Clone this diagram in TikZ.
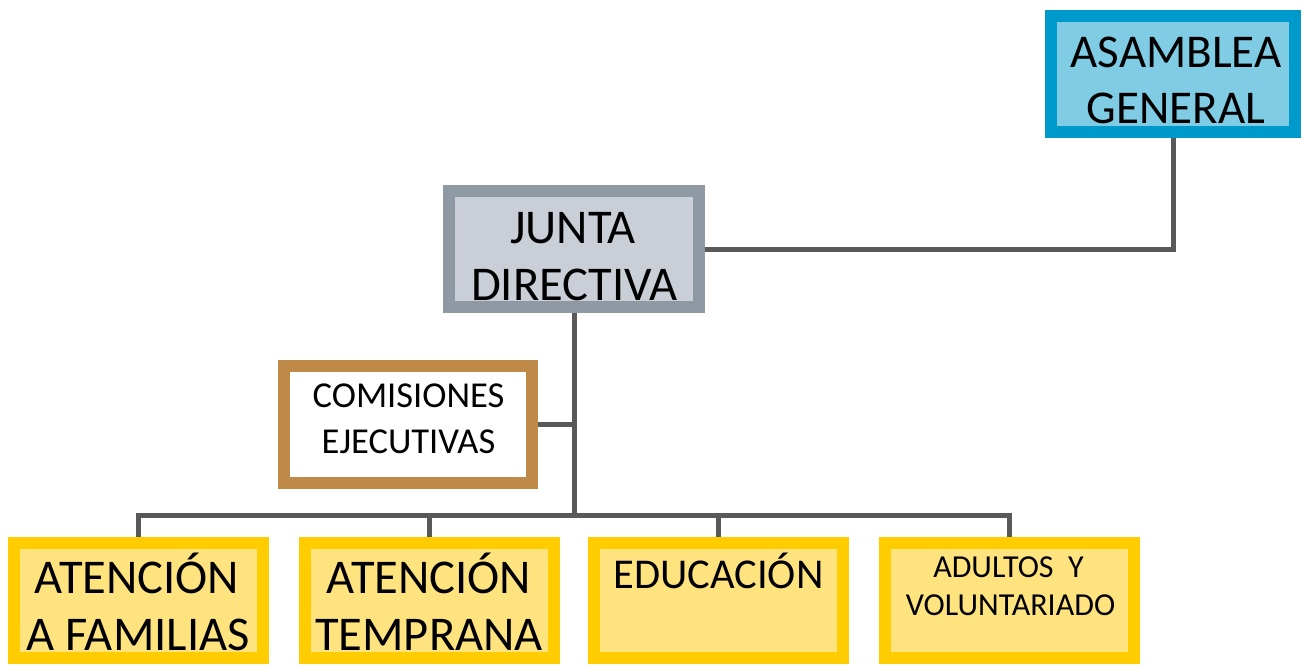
\documentclass[tikz,border=0pt]{standalone}
\usepackage{fontspec}
\setmainfont{Carlito}
\usetikzlibrary{backgrounds}
\definecolor{lineg}{HTML}{595959}
\definecolor{asamB}{HTML}{0099CC}
\definecolor{asamF}{HTML}{7FCCE4}
\definecolor{juntaB}{HTML}{8E99A4}
\definecolor{juntaF}{HTML}{C9CED7}
\definecolor{comB}{HTML}{BF8A48}
\definecolor{yelB}{HTML}{FFCC00}
\definecolor{yelF}{HTML}{FFE37F}
\tikzset{
  box/.style={rectangle, inner sep=0pt, line width=12pt, minimum width=249pt, minimum height=116pt},
  asambox/.style={box, draw=asamB, fill=asamF, minimum width=244pt},
  juntabox/.style={box, draw=juntaB, fill=juntaF, minimum width=250pt},
  combox/.style={box, draw=comB, fill=white, minimum width=248pt, minimum height=117pt},
  areabox/.style={box, draw=yelB, fill=yelF, minimum width=249pt, minimum height=115pt},
  txt/.style={inner sep=0pt, anchor=base},
  conn/.style={draw=lineg, line width=5pt}
}
\begin{document}
\begin{tikzpicture}[x=1pt,y=-1pt]
\useasboundingbox (0,0) rectangle (1303,665);
% boxes
\node[asambox] (asam) at (1173,74) {};
\node[juntabox] (junta) at (574,249) {};
\node[combox] (comis) at (408,424.5) {};
\node[areabox] (b1) at (138.5,600) {};
\node[areabox] (b2) at (429,600) {};
\node[areabox] (b3) at (718.5,600) {};
\node[areabox] (b4) at (1009,600) {};
% texts
\node[txt, font=\fontsize{47}{56}\selectfont] (asam1) at (1176,67) {ASAMBLEA};
\node[txt, font=\fontsize{47}{56}\selectfont] (asam2) at (1176,123) {GENERAL};
\node[txt, font=\fontsize{48.5}{56}\selectfont] (junta1) at (573,243) {JUNTA};
\node[txt, font=\fontsize{48.5}{56}\selectfont] (junta2) at (574.5,300) {DIRECTIVA};
\node[txt, font=\fontsize{36.5}{46}\selectfont] (com1) at (408.5,407) {COMISIONES};
\node[txt, font=\fontsize{36.5}{46}\selectfont] (com2) at (408.5,453) {EJECUTIVAS};
\node[txt, font=\fontsize{48.5}{57}\selectfont] (b1t1) at (137,593) {ATENCIÓN};
\node[txt, font=\fontsize{48.5}{57}\selectfont] (b1t2) at (138,650) {A FAMILIAS};
\node[txt, font=\fontsize{48.5}{57}\selectfont] (b2t1) at (429,593) {ATENCIÓN};
\node[txt, font=\fontsize{48.5}{57}\selectfont] (b2t2) at (429,650) {TEMPRANA};
\node[txt, font=\fontsize{42.5}{57}\selectfont] (b3t1) at (718.5,588) {EDUCACIÓN};
\node[txt, font=\fontsize{32}{38}\selectfont] (b4t1) at (1008.5,577) {ADULTOS\ \ Y};
\node[txt, font=\fontsize{32}{38}\selectfont] (b4t2) at (1010.5,615) {VOLUNTARIADO};
% connectors
\begin{scope}[on background layer]
\coordinate (bus) at (574,515);
\draw[conn] (asam.south) |- (junta.east);
\draw[conn] (junta.south) -- (bus);
\draw[conn] (comis.east) -- (comis.east -| junta.south);
\draw[conn] (b1.north) |- (bus) -| (b4.north);
\draw[conn] (b2.north) -- (b2.north |- bus);
\draw[conn] (b3.north) -- (b3.north |- bus);
\end{scope}
\end{tikzpicture}
\end{document}
